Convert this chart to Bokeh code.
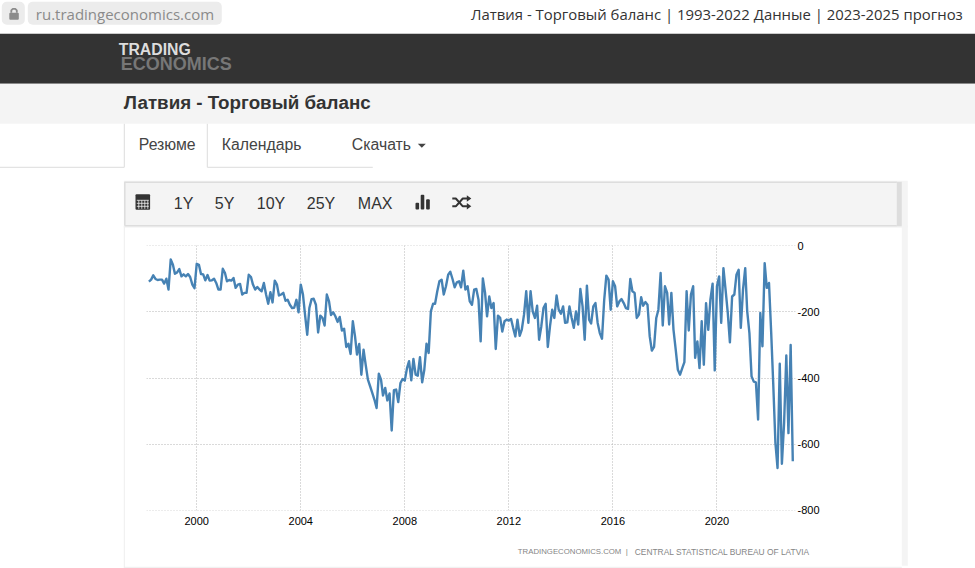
from datetime import datetime
import pandas as pd
from bokeh.plotting import figure
from bokeh.models import Range1d, FixedTicker, DatetimeTickFormatter
from bokeh.core.properties import value
from bokeh.embed import file_html
from bokeh.resources import INLINE

# ---- data (monthly, sign applied below) ----
y1998 = [108,102,89,100,103,102,102,114,99,132]          # Mar-Dec
y1999 = [41,57,84,80,70,92,86,92,85,94,117,128]
y2000 = [54,57,85,86,104,88,105,104,99,112,132,132]
y2001 = [69,82,107,103,105,97,127,117,115,147,142,142]
y2002 = [87,94,117,132,124,132,137,112,147,175,140,171]
y2003 = [105,117,150,147,142,166,163,178,188,187,163,201]
y2004 = [117,147,208,269,188,161,160,178,262,211,218,241]
y2005 = [147,168,209,201,213,230,215,256,251,306,296,327]
y2006 = [228,274,329,297,390,314,360,405,425,445,466,491]
y2007 = [387,405,453,430,468,447,559,437,435,473,415,403]
y2008 = [408,370,349,407,342,390,393,337,413,375,296,324]
y2009 = [198,175,175,137,107,102,147,122,87,78,100,125]
y2010 = [110,107,125,75,132,122,168,178,132,130,163,289]
y2011 = [98,142,213,153,188,173,312,211,218,259,228,223]
y2012 = [226,221,248,274,223,272,253,208,137,233,137,198]
y2013 = [218,181,284,243,188,175,306,243,193,218,150,193]
y2014 = [205,183,233,231,183,218,248,198,238,130,183,284]
y2015 = [120,223,235,183,173,233,264,281,163,90,102,193]
y2016 = [107,122,183,168,161,173,188,191,100,137,142,218]
y2017 = [208,155,181,170,178,274,317,306,218,193,82,241]
y2018 = [122,142,238,142,254,314,375,390,370,352,137,256]
y2019 = [147,122,339,289,370,228,360,173,254,163,114,377]
y2020 = [122,92,233,67,132,203,292,153,147,87,72,248]
y2021 = [132,67,198,264,395,411,413,526,203,304,52,127]
y2022 = [112,264,415,597,673,357,660,536,332,567,300,652]
x_tick_years = [2000, 2004, 2008, 2012, 2016, 2020]
y_ticks = [0, -200, -400, -600, -800]

deficit = (y1998+y1999+y2000+y2001+y2002+y2003+y2004+y2005+y2006+y2007+y2008+y2009
           +y2010+y2011+y2012+y2013+y2014+y2015+y2016+y2017+y2018+y2019+y2020+y2021+y2022)
balance = [-v for v in deficit]
dates = pd.date_range("1998-03-01", periods=len(balance), freq="MS")
tick_ms = [pd.Timestamp(year=y, month=1, day=1).timestamp()*1000 for y in x_tick_years]

W, H = 975, 568
L, R, T, B = 146, 795, 245, 510
PX_SHIFT = 0.7   # moves the page furniture a fraction of a pixel up and left

p = figure(width=W, height=H, output_backend="svg", toolbar_location=None,
           x_axis_type="datetime", y_axis_location="right",
           x_range=(datetime(1998,1,26), datetime(2023,1,8)), y_range=(-801.5, 1.5),
           min_border_left=L, min_border_right=W-R, min_border_top=T, min_border_bottom=H-B)
p.outline_line_color = None
p.extra_x_ranges = {"px": Range1d(L+PX_SHIFT, R+PX_SHIFT)}
p.extra_y_ranges = {"px": Range1d(B+PX_SHIFT, T+PX_SHIFT)}

for ax in (p.xaxis[0], p.yaxis[0]):
    ax.axis_line_color = None
    ax.major_tick_line_color = None
    ax.minor_tick_line_color = None
    ax.major_tick_out = 0
    ax.major_tick_in = 0
    ax.major_label_text_font = "Liberation Sans"
    ax.major_label_text_font_size = "11px"
    ax.major_label_text_color = "#000000"
p.xaxis[0].ticker = FixedTicker(ticks=tick_ms)
p.xaxis[0].formatter = DatetimeTickFormatter(years="%Y", months="%Y", days="%Y", hours="%Y")
p.xaxis[0].major_label_standoff = 6
p.yaxis[0].ticker = FixedTicker(ticks=y_ticks)
p.yaxis[0].major_label_overrides = {t: str(t) for t in y_ticks}
p.yaxis[0].major_label_standoff = 2
p.xgrid[0].ticker = FixedTicker(ticks=tick_ms)
p.ygrid[0].ticker = FixedTicker(ticks=y_ticks)
for g in (p.xgrid[0], p.ygrid[0]):
    g.grid_line_color = "#b4b4b4"
    g.grid_line_dash = "1 2"
    g.grid_line_width = 1

p.line(dates, balance, line_color="#4682B4", line_width=2.4, line_join="round")

# ---- page chrome, in page pixels ----
KW = dict(x_range_name="px", y_range_name="px", level="overlay")
def box(l, r, t, b, color, radius=0):
    p.quad(left=[l], right=[r], top=[t], bottom=[b], fill_color=color, line_color=None,
           border_radius=radius, **KW)
def seg(xs, ys, color, w=1, dash="solid"):
    p.line(xs, ys, line_color=color, line_width=w, line_dash=dash, **KW)
def txt(x, y, s, size, color, font="Open Sans", bold=False, align="left"):
    p.text(x=[x], y=[y], text=[s], text_font=value(font), text_font_size=size, text_color=color,
           text_font_style="bold" if bold else "normal", text_align=align, text_baseline="middle", **KW)

# address bar
box(2, 25, 2, 25, "#ececec", 5)
box(28, 222, 2, 25, "#ececec", 5)
box(9.5, 19, 13, 20, "#8c8c8c", 1)
p.line([11.5, 11.5, 13, 15.5, 17, 17], [13, 10.5, 9, 9, 10.5, 13], line_color="#8c8c8c", line_width=1.8, **KW)
txt(36, 14.5, "ru.tradingeconomics.com", "15px", "#8a8a8a")
txt(963, 14.5, "Латвия - Торговый баланс | 1993-2022 Данные | 2023-2025 прогноз", "14.9px", "#333333", align="right")

# nav + title strip
box(0, W+1, 34, 84, "#333333")
txt(119, 50, "TRADING", "15.8px", "#dddddd", "Liberation Sans", True)
txt(121, 64.5, "ECONOMICS", "18px", "#777777", "Liberation Sans", True)
box(0, W+1, 84, 124, "#f4f4f4")
txt(124, 102.5, "Латвия - Торговый баланс", "18.8px", "#333333", "Liberation Sans", True)

# tabs
seg([0, 124.5, 124.5], [167.5, 167.5, 124], "#dddddd")
seg([207.5, 207.5, 373], [124, 167.5, 167.5], "#dddddd")
txt(139, 144.5, "Резюме", "15.8px", "#444444", "Liberation Sans")
txt(222, 144.5, "Календарь", "15.8px", "#444444", "Liberation Sans")
txt(352, 144.5, "Скачать", "15.8px", "#444444", "Liberation Sans")
p.patch([418, 426, 422], [144, 144, 148], fill_color="#444444", line_color=None, **KW)

# toolbar
box(124, 908, 181, 228, "#f4f4f4")
box(125.5, 897, 183, 225.5, "#f4f4f4")
seg([125, 897], [182.5, 182.5], "#dddddd", 1.5)
seg([125, 897], [226, 226], "#dddddd", 1.5)
seg([125, 125], [182, 226], "#dddddd", 1.5)
box(897, 902, 182, 226.5, "#dddddd")
box(902, 908, 226, 566, "#f4f4f4")
seg([124.5, 124.5], [226, 568], "#eeeeee", 1)
seg([124, 902], [567.5, 567.5], "#eeeeee", 1)
for s, x in [("1Y", 174), ("5Y", 215), ("10Y", 257), ("25Y", 307), ("MAX", 358)]:
    txt(x, 203.5, s, "16px", "#333333", "Liberation Sans")
# calendar icon
box(135.7, 150.3, 194.5, 210, "#333333", 1)
for yy in (200.5, 203.5, 206.5):
    seg([137, 149], [yy, yy], "#f4f4f4", 0.8)
for xx in (139, 142, 145, 148):
    seg([xx, xx], [200.5, 209], "#f4f4f4", 0.8)
# bar icon
box(415.7, 419.3, 203, 209.7, "#333333", 1)
box(420.9, 424.5, 195, 209.7, "#333333", 1)
box(426.3, 430, 199.5, 209.7, "#333333", 1)
# shuffle icon
seg([452.5, 456, 463, 468], [198.7, 198.7, 206.5, 206.5], "#333333", 2)
seg([452.5, 456, 463, 468], [206.5, 206.5, 198.7, 198.7], "#333333", 2)
p.patch([467, 471.5, 467], [195.5, 198.7, 202], fill_color="#333333", line_color=None, **KW)
p.patch([467, 471.5, 467], [203.3, 206.5, 209.7], fill_color="#333333", line_color=None, **KW)

# source line
txt(518, 552, "TRADINGECONOMICS.COM", "7.8px", "#858585", "Liberation Sans")
txt(626, 552, "|", "8px", "#858585", "Liberation Sans")
txt(635, 552, "CENTRAL STATISTICAL BUREAU OF LATVIA", "8.4px", "#858585", "Liberation Sans")

open("out.html", "w").write(file_html(p, INLINE))
